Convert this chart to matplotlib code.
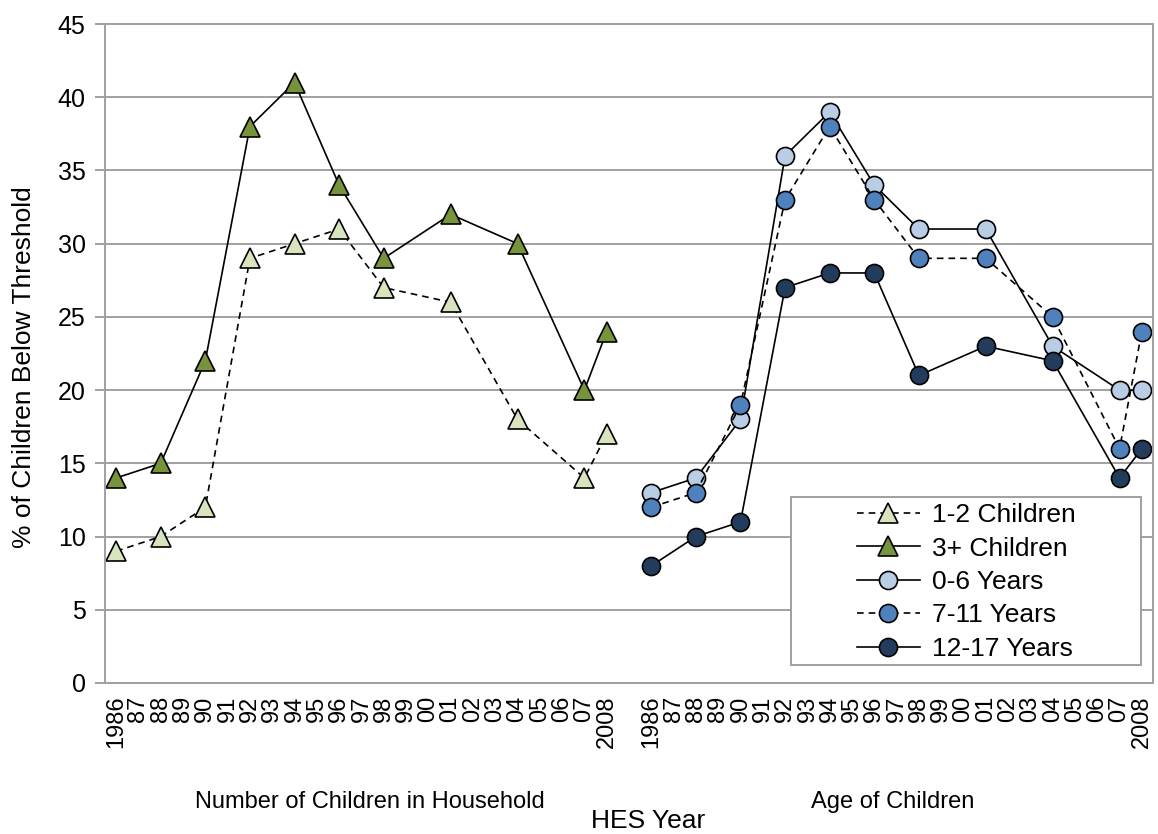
import matplotlib
matplotlib.use("Agg")
import matplotlib.pyplot as plt
from matplotlib.patches import Rectangle

plt.rcParams['font.family'] = ['Liberation Sans', 'DejaVu Sans']

# category axis: two groups of years with one empty slot between
group_years = ['1986', '87', '88', '89', '90', '91', '92', '93', '94', '95', '96',
               '97', '98', '99', '00', '01', '02', '03', '04', '05', '06', '07', '2008']
tick_labels = group_years + [''] + group_years
right_offset = len(group_years) + 1

# survey years where there is data
survey = ['1986', '88', '90', '92', '94', '96', '98', '01', '04', '07', '2008']

kids_1_2 = [9, 10, 12, 29, 30, 31, 27, 26, 18, 14, 17]
kids_3p = [14, 15, 22, 38, 41, 34, 29, 32, 30, 20, 24]
age_0_6 = [13, 14, 18, 36, 39, 34, 31, 31, 23, 20, 20]
age_7_11 = [12, 13, 19, 33, 38, 33, 29, 29, 25, 16, 24]
age_12_17 = [8, 10, 11, 27, 28, 28, 21, 23, 22, 14, 16]

left_x = [group_years.index(y) for y in survey]
right_x = [group_years.index(y) + right_offset for y in survey]

W, H = 1158, 834
fig = plt.figure(figsize=(W/100, H/100), dpi=100)
ax = fig.add_axes([105/W, 151/H, 1048/W, 659/H])

gray = '#A0A0A0'
ax.set_axisbelow(True)
ax.grid(axis='y', color=gray, linewidth=1.4)

series = [
    (left_x, kids_1_2, '1-2 Children', '^', '#D7E4BD', '--'),
    (left_x, kids_3p, '3+ Children', '^', '#77933C', '-'),
    (right_x, age_0_6, '0-6 Years', 'o', '#B9CDE5', '-'),
    (right_x, age_7_11, '7-11 Years', 'o', '#4F81BD', '--'),
    (right_x, age_12_17, '12-17 Years', 'o', '#243C5C', '-'),
]
for xs, ys, lab, mk, col, ls in series:
    ms = 14 if mk == '^' else 13
    ax.plot(xs, ys, linestyle=ls, color='black', linewidth=1.2, marker=mk,
            markersize=ms, markerfacecolor=col, markeredgecolor='black',
            markeredgewidth=1.2, label=lab, dashes=(4, 3) if ls == '--' else (None, None))

ax.set_xlim(-0.5, len(tick_labels) - 0.5)
ax.set_ylim(0, 45)
ax.set_yticks(range(0, 46, 5))
ax.set_xticks(range(len(tick_labels)))
ax.set_xticklabels(tick_labels, rotation=90, fontsize=17)
ax.tick_params(axis='x', length=0, pad=9)
ax.tick_params(axis='y', labelsize=18, length=7, color=gray, width=1.4, pad=7)
for s in ax.spines.values():
    s.set_color(gray)
    s.set_linewidth(1.4)

ax.set_ylabel('% of Children Below Threshold', fontsize=19)
ax.yaxis.set_label_coords((36 - 105)/1048, 0.48)

fig.text(370/W, 1 - 802/H, 'Number of Children in Household', fontsize=17,
         ha='center', va='center')
fig.text(893/W, 1 - 802/H, 'Age of Children', fontsize=17,
         ha='center', va='center')
fig.text(648/W, 1 - 821/H, 'HES Year', fontsize=19, ha='center', va='center')

# legend box drawn separately so the entries sit centred in a wide frame
box = Rectangle((791/W, 1 - 665/H), 350/W, 168/H, transform=fig.transFigure,
                facecolor='white', edgecolor=gray, linewidth=1.4, zorder=5,
                clip_on=False)
ax.add_patch(box)
leg = ax.legend(loc='center', bbox_to_anchor=(966/W, 1 - 582/H),
                bbox_transform=fig.transFigure, fontsize=19, frameon=False,
                handlelength=2.4, labelspacing=0.36, borderpad=0.0,
                handletextpad=0.45)
leg.set_zorder(6)

fig.savefig('out.png', dpi=100)
